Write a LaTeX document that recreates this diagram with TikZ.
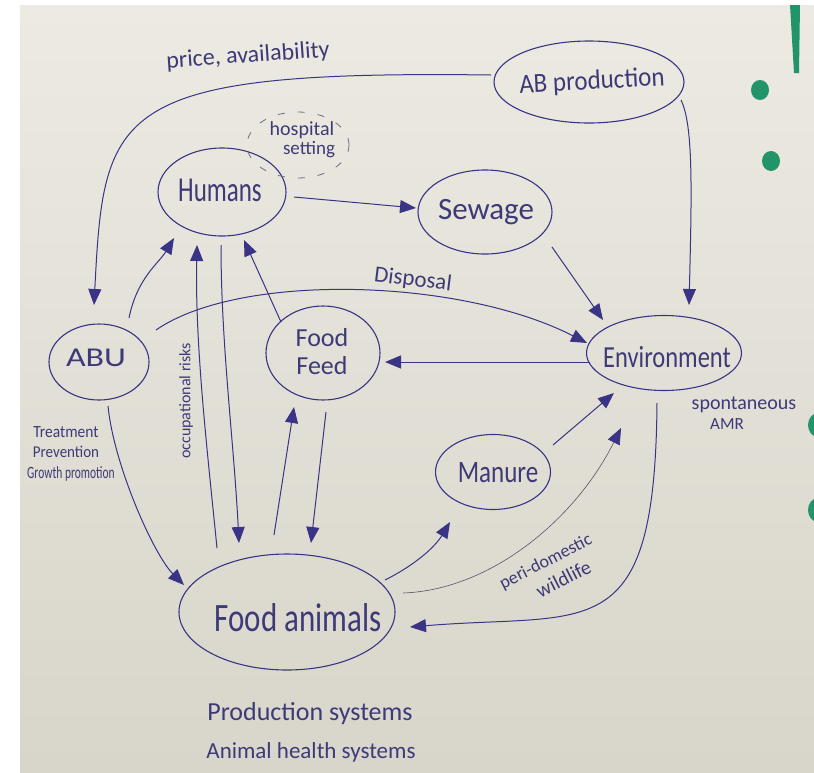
\documentclass[tikz,border=0pt]{standalone}
\usepackage{fontspec}
\usepackage{graphicx}
\setmainfont{Carlito}
\usetikzlibrary{shapes.geometric,arrows.meta,calc}

\definecolor{ink}{HTML}{3A3486}
\definecolor{inktext}{HTML}{3E3A78}
\definecolor{pencil}{HTML}{55536A}
\definecolor{dashink}{HTML}{6E6B82}
\definecolor{papertop}{HTML}{ECEAE2}
\definecolor{paperbot}{HTML}{D8D5CA}
\definecolor{tabgreen}{HTML}{22946A}

% vertical stretch for the tall handwritten letters
\newcommand\vstretch[2]{\scalebox{1}[#1]{#2}}
\newcommand\fs[1]{\fontsize{#1}{#1}\selectfont}

\begin{document}
\begin{tikzpicture}[x=1pt,y=-1pt,
  blob/.style={ellipse, draw=ink, line width=1.1pt, inner sep=0pt},
  cloud/.style={ellipse, draw=dashink, line width=0.8pt, dash pattern=on 7pt off 13pt, inner sep=0pt},
  word/.style={text=inktext, inner sep=0pt},
  flow/.style={draw=ink, line width=1pt, -{Triangle[length=16pt,width=13pt]}},
  faint/.style={draw=pencil, line width=0.6pt, -{Triangle[length=16pt,width=13pt,color=ink]}}]

\useasboundingbox (0,0) rectangle (814,772);

% paper sheet
\fill[white] (0,0) rectangle (814,772);
\shade[top color=papertop, bottom color=paperbot] (20,5) rectangle (814,772);

% green tab and punched holes
\begin{scope}
  \clip (0,0) rectangle (814,772);
  \fill[tabgreen] (790,5) -- (800,5) -- (799,73) -- (794,73) -- cycle;
  \fill[tabgreen] (760,90) ellipse (9 and 10);
  \fill[tabgreen] (771,161) ellipse (9 and 10);
  \fill[tabgreen] (818,425) ellipse (10 and 12);
  \fill[tabgreen] (818,510) ellipse (10 and 12);
\end{scope}

% ---------- nodes ----------
\node[blob, minimum width=190, minimum height=82] (abp) at (589,82) {};
\node[blob, minimum width=128, minimum height=88] (hum) at (222,192) {};
\node[cloud, minimum width=102, minimum height=66] (hosp) at (298,145) {};
\node[blob, minimum width=134, minimum height=84] (sew) at (485,212) {};
\node[blob, minimum width=100, minimum height=76] (abu) at (99,362) {};
\node[blob, minimum width=114, minimum height=94] (feed) at (323,353) {};
\node[blob, minimum width=155, minimum height=75] (env) at (664,353) {};
\node[blob, minimum width=115, minimum height=75] (man) at (493,472) {};
\node[blob, minimum width=216, minimum height=116] (fa) at (287,612) {};

% ---------- node texts ----------
\node[word, font=\fs{25}, rotate=3] (abp-t) at (592,82) {\vstretch{1.1}{AB production}};
\node[word, font=\fs{25}] (hum-t) at (220,190) {\vstretch{1.4}{Humans}};
\node[word, font=\fs{20}] (hosp-a) at (302,130) {hospital};
\node[word, font=\fs{19}] (hosp-b) at (309,150) {setting};
\node[word, font=\fs{31}] (sew-t) at (486,212) {Sewage};
\node[word, font=\fs{34}] (abu-t) at (96,358) {\vstretch{0.8}{ABU}};
\node[word, font=\fs{26}] (feed-a) at (322,338) {Food};
\node[word, font=\fs{26}] (feed-b) at (322,366) {Feed};
\node[word, font=\fs{24.5}] (env-t) at (667,357) {\vstretch{1.25}{Environment}};
\node[word, font=\fs{25}] (man-t) at (498,473) {\vstretch{1.25}{Manure}};
\node[word, font=\fs{31}] (fa-t) at (298,618) {\vstretch{1.3}{Food animals}};

% ---------- connectors ----------
\draw[flow] ($(abp)+(-98,-7)$) .. controls +(-381,-5) and +(10,-195) .. ($(abu)+(-5,-57)$);
\draw[flow] ($(abp)+(92,18)$) .. controls +(12,25) and +(3,-120) .. ($(env)+(25,-48)$);
\draw[flow] ($(hum)+(72,5)$) -- ($(sew)+(-69,-4)$);
\draw[flow] ($(sew)+(67,35)$) -- ($(env)+(-61,-33)$);
\draw[flow] ($(abu)+(30,-44)$) .. controls +(8,-40) and +(-15,25) .. ($(hum)+(-48,46)$);
\draw[flow] ($(fa)+(-70,-64)$) .. controls +(-10,-100) and +(-2,100) .. ($(hum)+(-25,53)$);
\draw[flow] ($(hum)+(-1,53)$) .. controls +(0,100) and +(-5,-100) .. ($(fa)+(-48,-69)$);
\draw[flow] ($(feed)+(-42,-31)$) -- ($(hum)+(22,48)$);
\draw[flow] ($(abu)+(57,-32)$) .. controls +(84,-58) and +(-127,-65) .. ($(env)+(-77,-10)$);
\draw[flow] ($(env)+(-74,9)$) -- ($(feed)+(62,9)$);
\draw[flow] ($(abu)+(9,44)$) .. controls +(6,60) and +(-30,-30) .. ($(fa)+(-103,-27)$);
\draw[flow] ($(fa)+(-13,-77)$) -- ($(feed)+(-29,54)$);
\draw[flow] ($(feed)+(3,59)$) -- ($(fa)+(24,-69)$);
\draw[flow] ($(fa)+(98,-32)$) .. controls +(30,-15) and +(-15,25) .. ($(man)+(-43,50)$);
\draw[flow] ($(man)+(60,-27)$) -- ($(env)+(-50,40)$);
\draw[faint] ($(fa)+(116,-19)$) .. controls +(87,-3) and +(-46,92) .. ($(env)+(-43,75)$);
\draw[flow] ($(env)+(-7,50)$) .. controls +(-2,247) and +(180,-15) .. ($(fa)+(123,15)$);

% ---------- connector labels and notes ----------
\node[word, font=\fs{24}, rotate=4] (price) at (248,56) {price, availability};
\node[word, font=\fs{23}, rotate=-7] (disp) at (413,280) {Disposal};
\node[word, font=\fs{16}, rotate=90] (occ) at (186,401) {occupational risks};
\node[word, font=\fs{15.5}] (use-a) at (66,432) {\vstretch{1.1}{Treatment}};
\node[word, font=\fs{15}] (use-b) at (66,452) {\vstretch{1.1}{Prevention}};
\node[word, font=\fs{11.5}] (use-c) at (71,474) {\vstretch{1.5}{Growth promotion}};
\node[word, font=\fs{20}] (spon-a) at (744,405) {spontaneous};
\node[word, font=\fs{17}] (spon-b) at (727,424) {AMR};
\node[word, font=\fs{18}, rotate=27, align=center] (wild) at (551,572)
  {peri-domestic\\[7pt]\hspace*{16pt}{\fs{20}wildlife}};
\node[word, font=\fs{26}] (sys-a) at (310,714) {Production systems};
\node[word, font=\fs{23}] (sys-b) at (311,752) {Animal health systems};

\end{tikzpicture}
\end{document}
